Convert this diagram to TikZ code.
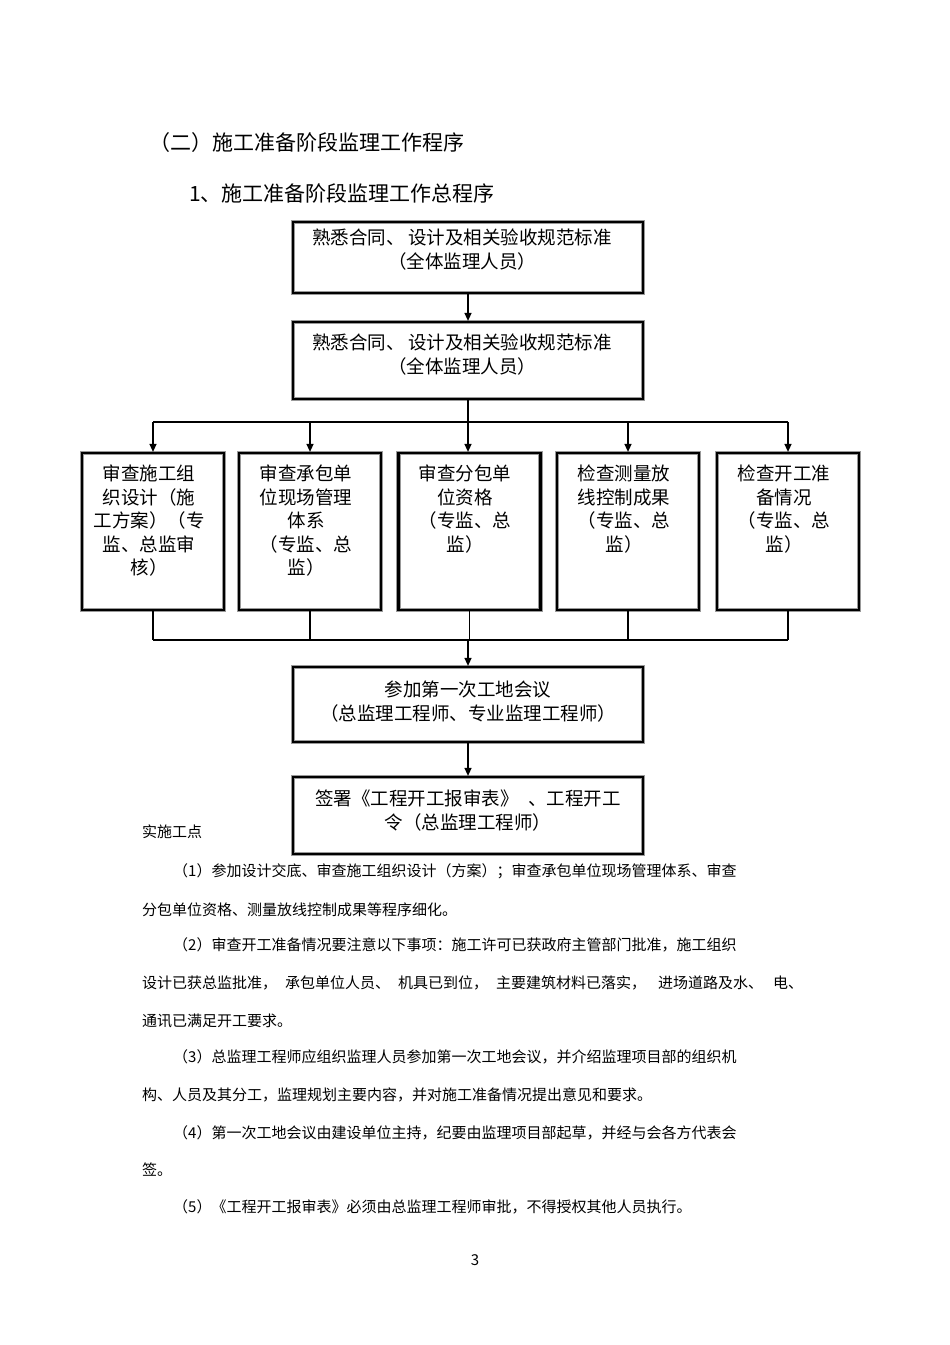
\documentclass[tikz,border=0pt]{standalone}
\usepackage{fontspec}
\setmainfont{Noto Sans CJK SC}
\usetikzlibrary{arrows.meta}
\begin{document}
\begin{tikzpicture}[x=1pt,y=-1pt,
  box/.style={draw=black, line width=2.2pt, preaction={draw=black!40,line width=4.2pt}, inner sep=0pt},
  btxt/.style={inner sep=0pt, align=center, anchor=north, font=\fontsize{18.5pt}{23.5pt}\selectfont},
  ptxt/.style={inner sep=0pt, anchor=west, font=\fontsize{15pt}{18pt}\selectfont},
  htxt/.style={inner sep=0pt, anchor=west, font=\fontsize{21pt}{25pt}\selectfont},
  conn/.style={line width=1.3pt, -{Triangle[length=8pt,width=7pt]}},
  link/.style={line width=1.3pt}]
\useasboundingbox[fill=white] (0,0) rectangle (950,1345);

% headings
\node[htxt] (h1) at (149,143) {（二）施工准备阶段监理工作程序};
\node[htxt] (h2) at (189,193) {1、施工准备阶段监理工作总程序};

% top boxes
\node[box, minimum width=350pt, minimum height=71pt] (top1) at (468,257.5) {};
\node[btxt] (t1) at (462,229) {熟悉合同、\hspace{4pt}设计及相关验收规范标准\\（全体监理人员）};
\node[box, minimum width=350pt, minimum height=77pt] (top2) at (468,360.5) {};
\node[btxt] (t2) at (462,334) {熟悉合同、\hspace{4pt}设计及相关验收规范标准\\（全体监理人员）};

% five boxes
\foreach \n/\x in {b1/153, b2/310, b3/469.5, b4/628, b5/788}
  \node[box, minimum width=142pt, minimum height=157pt] (\n) at (\x,531.5) {};
\node[btxt] (tb1) at (149,465) {审查施工组\\织设计（施\\工方案）（专\\监、总监审\\核）};
\node[btxt] (tb2) at (306,465) {审查承包单\\位现场管理\\体系\\（专监、总\\监）};
\node[btxt] (tb3) at (465,465) {审查分包单\\位资格\\（专监、总\\监）};
\node[btxt] (tb4) at (624,465) {检查测量放\\线控制成果\\（专监、总\\监）};
\node[btxt] (tb5) at (784,465) {检查开工准\\备情况\\（专监、总\\监）};

% lower boxes
\node[box, minimum width=350pt, minimum height=75pt] (m6) at (468,704.5) {};
\node[btxt] (t6) at (468,681) {参加第一次工地会议\\（总监理工程师、专业监理工程师）};
\node[box, minimum width=350pt, minimum height=77pt] (m7) at (468,815.5) {};
\node[btxt] (t7) at (468,790) {签署《工程开工报审表》\hspace{10pt}、工程开工\\令（总监理工程师）};

% connectors
\coordinate (bus) at (0,422);
\coordinate (merge) at (0,640);
\draw[conn] (top1.south) -- (top2.north);
\draw[conn] (top2.south) -- (top2.south |- b3.north);
\draw[link] (b1.north |- bus) -- (b5.north |- bus);
\foreach \n in {b1,b2,b4,b5}
  \draw[conn] (\n.north |- bus) -- (\n.north);
\foreach \n in {b1,b2,b3,b4,b5}
  \draw[link] (\n.south) -- (\n.south |- merge);
\draw[link] (b1.south |- merge) -- (b5.south |- merge);
\draw[conn] (m6.north |- merge) -- (m6.north);
\draw[conn] (m6.south) -- (m7.north);

% text below
\node[ptxt] (note) at (142,832) {实施工点};
\node[ptxt] (p1a) at (173,871) {（1）参加设计交底、审查施工组织设计（方案）；审查承包单位现场管理体系、审查};
\node[ptxt] (p1b) at (142,910) {分包单位资格、测量放线控制成果等程序细化。};
\node[ptxt] (p2a) at (173,945) {（2）审查开工准备情况要注意以下事项：施工许可已获政府主管部门批准，施工组织};
\node[ptxt] (p2b) at (142,983) {设计已获总监批准，\hspace{8pt}承包单位人员、\hspace{8pt}机具已到位，\hspace{8pt}主要建筑材料已落实，\hspace{12pt}进场道路及水、\hspace{10pt}电、};
\node[ptxt] (p2c) at (142,1021) {通讯已满足开工要求。};
\node[ptxt] (p3a) at (173,1057) {（3）总监理工程师应组织监理人员参加第一次工地会议，并介绍监理项目部的组织机};
\node[ptxt] (p3b) at (142,1095) {构、人员及其分工，监理规划主要内容，并对施工准备情况提出意见和要求。};
\node[ptxt] (p4a) at (173,1133) {（4）第一次工地会议由建设单位主持，纪要由监理项目部起草，并经与会各方代表会};
\node[ptxt] (p4b) at (142,1170) {签。};
\node[ptxt] (p5) at (173,1207) {（5）《工程开工报审表》必须由总监理工程师审批，不得授权其他人员执行。};
\node[ptxt, anchor=center] (pg) at (475,1260) {3};
\end{tikzpicture}
\end{document}
